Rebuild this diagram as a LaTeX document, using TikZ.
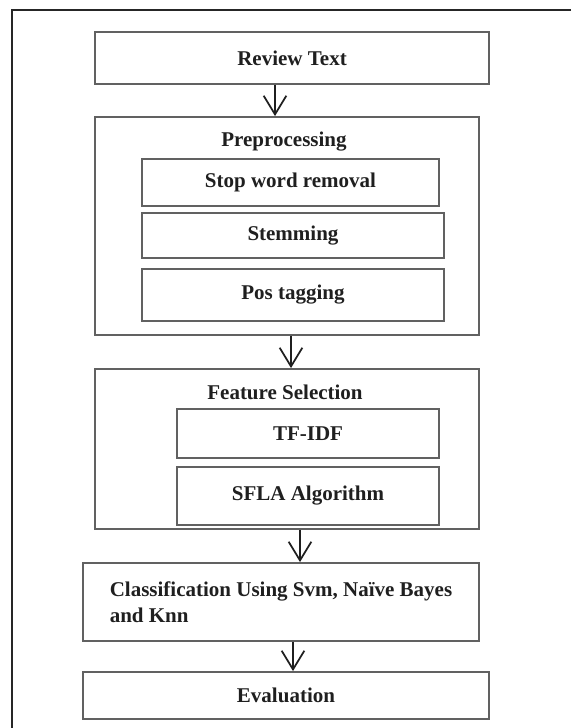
\documentclass[tikz,border=0pt]{standalone}
\usepackage{fontspec}
\setmainfont{Liberation Serif}
\usetikzlibrary{positioning}
\usetikzlibrary{arrows.meta}

\begin{document}
\begin{tikzpicture}[x=0.75pt, y=-0.75pt,
    font=\fontsize{15.75}{19.5}\selectfont\bfseries,
    box/.style={draw=black!62, line width=1.4pt, inner sep=0pt, text=black!88},
    flow/.style={draw=black!88, line width=1.3pt, -{Straight Barb[length=14pt, width=17pt]}}]
  \useasboundingbox (0,0) rectangle (571,728);

  % Outer frame (only top and left edges are visible)
  \draw[line width=1.4pt, black!85] (571,10) -- (12,10) -- (12,728);

  % Main stages
  \node[box, minimum width=295.5pt, minimum height=39pt] (review) at (292,58) {Review Text};
  \node[box, minimum width=288pt, minimum height=163.5pt] (prep) at (287,226) {};
  \node[box, minimum width=288pt, minimum height=120pt] (feat) at (287,449) {};
  \node[box, minimum width=297pt, minimum height=58.5pt, align=left] (class) at (281,602)
    {Classification Using Svm, Naïve Bayes\\and Knn};
  \node[box, minimum width=304.5pt, minimum height=35.25pt] (eval) at (286,695.5) {Evaluation};

  % Preprocessing steps
  \node[text=black!88] (preplabel) at (284,142) {Preprocessing};
  \node[box, minimum width=222.75pt, minimum height=35.25pt] (stop) at (290.5,182.5) {Stop word removal};
  \node[box, minimum width=226.5pt, minimum height=33.75pt] (stem) at (293,235.5) {Stemming};
  \node[box, minimum width=226.5pt, minimum height=39pt] (pos) at (293,295) {Pos tagging};

  % Feature selection steps
  \node[text=black!88] (featlabel) at (285,392) {Feature Selection};
  \node[box, minimum width=196.5pt, minimum height=36.75pt] (tfidf) at (308,433.5) {TF-IDF};
  \node[box, minimum width=196.5pt, minimum height=43.5pt] (sfla) at (308,496) {\raisebox{4.5pt}{SFLA Algorithm}};

  % Arrows between stages
  \draw[flow] ([xshift=-12.75pt]review.south) -- ([xshift=-12.75pt]review.south |- prep.north);
  \draw[flow] ([xshift=3pt]prep.south) -- ([xshift=3pt]prep.south |- feat.north);
  \draw[flow] ([xshift=9.75pt]feat.south) -- ([xshift=9.75pt]feat.south |- class.north);
  \draw[flow] ([xshift=9pt]class.south) -- ([xshift=9pt]class.south |- eval.north);
\end{tikzpicture}
\end{document}
